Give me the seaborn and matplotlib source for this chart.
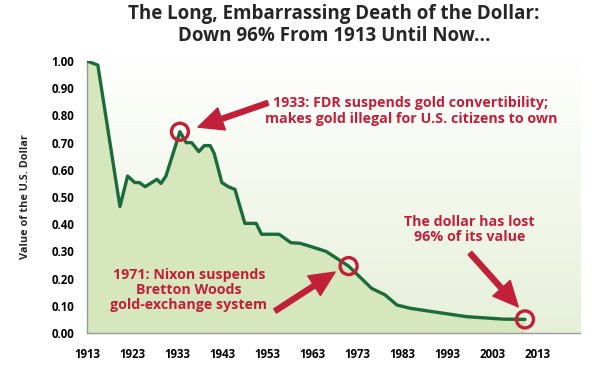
import numpy as np
import pandas as pd
import matplotlib
matplotlib.use("Agg")
import matplotlib.pyplot as plt
import seaborn as sns
from matplotlib.colors import to_rgb

# Value of one 1913 dollar
years = [1913, 1915.4, 1920.3, 1922, 1923.6, 1924.6, 1925.9, 1928.5, 1929.4, 1930.5,
         1933.6, 1935, 1936.2, 1937.8, 1939, 1940.3, 1941.2, 1942.9, 1944.3, 1945.8,
         1948, 1950.5, 1951.7, 1955.6, 1958.2, 1960.2, 1962.8, 1966, 1971, 1976.1,
         1979.1, 1981.7, 1984.6, 1989.8, 1997.2, 2005.3, 2010.1]
values = [1.00, 0.985, 0.465, 0.577, 0.553, 0.553, 0.538, 0.565, 0.55, 0.577,
          0.74, 0.70, 0.70, 0.667, 0.689, 0.689, 0.66, 0.553, 0.538, 0.528,
          0.403, 0.403, 0.363, 0.363, 0.332, 0.330, 0.317, 0.300, 0.246, 0.164,
          0.140, 0.103, 0.091, 0.078, 0.060, 0.051, 0.050]

x_ticks = list(range(1913, 2014, 10))
y_ticks = [i / 10 for i in range(11)]

# highlighted events: (year, value)
events = [(1933.6, 0.74), (1971, 0.246), (2010.1, 0.05)]

notes = [
    "1933: FDR suspends gold convertibility;\nmakes gold illegal for U.S. citizens to own",
    "1971: Nixon suspends\nBretton Woods\ngold-exchange system",
    "The dollar has lost\n96% of its value",
]

df = pd.DataFrame({"year": years, "value": values})

sns.set_style("white")
plt.rcParams["font.family"] = ["Open Sans", "DejaVu Sans"]
plt.rcParams["font.weight"] = "bold"

red = "#c21f39"
green = "#1c6b3a"
fill = "#d6e7bd"

fig = plt.figure(figsize=(6.05, 3.77), dpi=100)
ax = fig.add_axes([0.1438, 0.1167, 0.8149, 0.7215])
ax.set_xlim(1913, 2022.3)
ax.set_ylim(0, 1.0)

# background gradient: white at top, pale green at bottom
top = np.array(to_rgb("#ffffff"))
bot = np.array(to_rgb("#e6f0d9"))
t = np.linspace(0, 1, 256)[:, None]
grad = (top * (1 - t) + bot * t)[:, None, :]
ax.imshow(grad, extent=[1913, 2022.3, 0, 1.0], aspect="auto", zorder=0)

ax.fill_between(df["year"], df["value"], 0, color=fill, zorder=1, lw=0)
sns.lineplot(data=df, x="year", y="value", color=green, lw=2.4, ax=ax, zorder=3)

ev = pd.DataFrame(events, columns=["year", "value"])
ax.scatter(ev["year"], ev["value"], s=150, facecolors="none", edgecolors=red,
           linewidths=2.4, zorder=4)

arrow = dict(arrowstyle="simple,head_length=1.5,head_width=1.4,tail_width=0.3",
             color=red, mutation_scale=12, shrinkA=0, shrinkB=0)
ax.annotate("", xy=(1937.6, 0.757), xytext=(1953.1, 0.846), arrowprops=arrow, zorder=5)
ax.annotate("", xy=(1968.0, 0.224), xytext=(1954.7, 0.081), arrowprops=arrow, zorder=5)
ax.annotate("", xy=(2008.6, 0.096), xytext=(1997.9, 0.294), arrowprops=arrow, zorder=5)

note_kw = dict(color=red, fontsize=10.3, fontweight="bold", ha="center", va="center",
               linespacing=1.1, zorder=5)
ax.text(1984.8, 0.816, notes[0], **note_kw)
ax.text(1935.6, 0.158, notes[1], **note_kw)
ax.text(1997.8, 0.38, notes[2], **note_kw)

ax.set_xticks(x_ticks)
ax.set_xticklabels([str(x) for x in x_ticks], fontsize=8.3, fontweight="bold")
ax.set_yticks(y_ticks)
ax.set_yticklabels([f"{y:.2f}" for y in y_ticks], fontsize=8.3, fontweight="bold")
ax.tick_params(axis="both", direction="out", length=5, width=1, color="#999999",
               pad=4, labelcolor="black")
ax.tick_params(axis="x", pad=6)
ax.set_xlabel("")
ax.set_ylabel("Value of the U.S. Dollar", fontsize=7.8, fontweight="bold", labelpad=15)

for side in ["top", "right"]:
    ax.spines[side].set_visible(False)
for side in ["left", "bottom"]:
    ax.spines[side].set_color("#999999")
    ax.spines[side].set_linewidth(1)

fig.text(0.552, 0.99, "The Long, Embarrassing Death of the Dollar:\nDown 96% From 1913 Until Now...",
         ha="center", va="top", fontsize=13.5, fontweight="bold", linespacing=1.15)

fig.savefig("out.png", dpi=100)
